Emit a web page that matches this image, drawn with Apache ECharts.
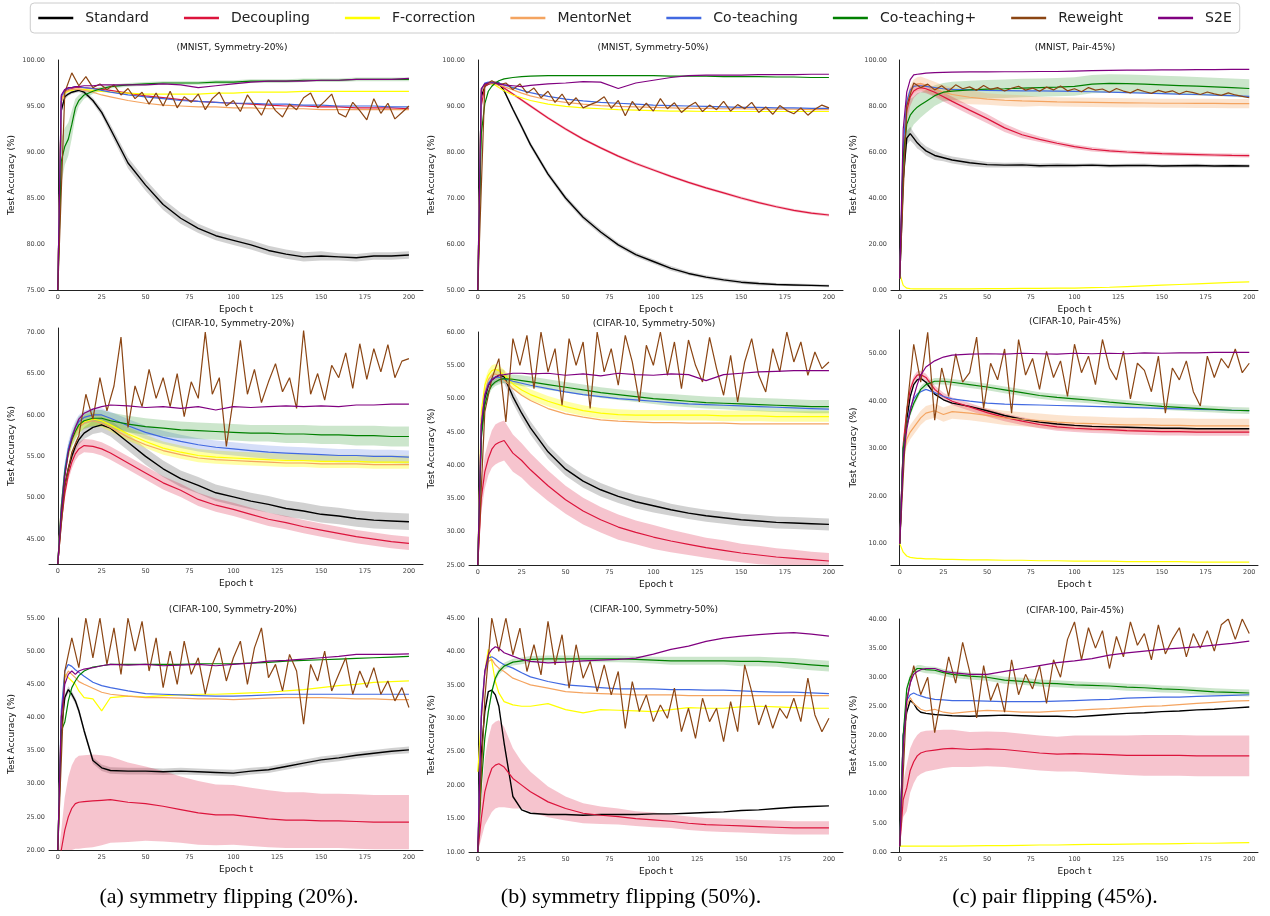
<!DOCTYPE html>
<html>
<head>
<meta charset="utf-8">
<script src="https://cdn.jsdelivr.net/npm/echarts/dist/echarts.min.js"></script>
<style>
html, body { margin: 0; padding: 0; background: #fff; }
#container { width: 1270px; height: 916px; }
</style>
</head>
<body>
<div id="container"></div>
<script>
var dom = document.getElementById("container");
var myChart = echarts.init(dom);

var methods = ['Standard', 'Decoupling', 'F-correction', 'MentorNet', 'Co-teaching', 'Co-teaching+', 'Reweight', 'S2E'];
var colors = ['#000000', '#dc143c', '#ffff00', '#f4a460', '#4169e1', '#008000', '#8b4513', '#800080'];
var bandColors = ['rgba(0,0,0,0.18)', 'rgba(220,20,60,0.25)', 'rgba(255,255,0,0.35)', 'rgba(244,164,96,0.3)',
    'rgba(65,105,225,0.22)', 'rgba(0,128,0,0.2)', 'rgba(139,69,19,0.2)', 'rgba(128,0,128,0.2)'];

// epochs read for the smooth curves, and for the noisy Reweight curve
var epochs = [0, 2, 4, 6, 8, 10, 12, 15, 20, 25, 30, 40, 50, 60, 70, 80, 90, 100, 110, 120, 130, 140, 150, 160, 170, 180, 190, 200];
var epochsR = [0, 4, 8, 12, 16, 20, 24, 28, 32, 36, 40, 44, 48, 52, 56, 60, 64, 68, 72, 76, 80, 84, 88, 92, 96, 100,
    104, 108, 112, 116, 120, 124, 128, 132, 136, 140, 144, 148, 152, 156, 160, 164, 168, 172, 176, 180, 184, 188, 192, 196, 200];

// (MNIST, Symmetry-20%)
var m20_std = [75, 94.5, 96.0, 96.3, 96.5, 96.6, 96.7, 96.5, 95.6, 94.3, 92.5, 88.8, 86.4, 84.3, 82.8, 81.7, 80.9, 80.4, 79.9, 79.3, 78.9, 78.6, 78.7, 78.6, 78.5, 78.7, 78.7, 78.8];
var m20_dec = [75, 95.5, 96.6, 96.8, 96.9, 97.0, 97.0, 97.0, 96.9, 96.8, 96.7, 96.4, 96.1, 95.9, 95.7, 95.5, 95.4, 95.3, 95.2, 95.1, 95.0, 95.0, 94.9, 94.9, 94.8, 94.8, 94.8, 94.7];
var m20_fcor = [75, 95.5, 96.4, 96.6, 96.7, 96.8, 96.8, 96.8, 96.7, 96.6, 96.5, 96.4, 96.3, 96.3, 96.3, 96.3, 96.4, 96.4, 96.5, 96.5, 96.5, 96.6, 96.6, 96.6, 96.6, 96.6, 96.6, 96.6];
var m20_ment = [75, 95.5, 96.5, 96.7, 96.8, 96.8, 96.8, 96.7, 96.5, 96.2, 96.0, 95.6, 95.3, 95.1, 95.0, 94.9, 94.9, 94.8, 94.8, 94.7, 94.7, 94.7, 94.6, 94.6, 94.6, 94.6, 94.6, 94.6];
var m20_cot = [75, 96.0, 96.7, 96.9, 97.0, 97.1, 97.1, 97.0, 96.9, 96.7, 96.5, 96.2, 96.0, 95.8, 95.6, 95.5, 95.4, 95.3, 95.3, 95.2, 95.2, 95.1, 95.1, 95.0, 95.0, 95.0, 94.9, 94.9];
var m20_cotp = [75, 89.0, 90.6, 91.4, 93.0, 94.8, 95.6, 96.2, 96.6, 96.9, 97.1, 97.3, 97.4, 97.5, 97.5, 97.5, 97.6, 97.6, 97.7, 97.7, 97.7, 97.8, 97.8, 97.8, 97.9, 97.9, 97.9, 97.9];
var m20_s2e = [75, 96.2, 96.8, 97.0, 97.0, 97.1, 97.1, 97.2, 97.2, 97.3, 97.3, 97.3, 97.3, 97.4, 97.3, 97.0, 97.2, 97.4, 97.6, 97.7, 97.7, 97.7, 97.8, 97.8, 97.9, 97.9, 97.9, 98.0];
var m20_rew = [75, 96.5, 98.6, 97.2, 98.2, 97.0, 97.4, 96.8, 97.3, 96.2, 96.9, 95.8, 96.5, 95.2, 96.4, 95.0, 96.6, 94.8, 96.0, 95.4, 96.3, 94.6, 95.8, 96.5, 95.0, 95.6,
    94.4, 96.2, 95.1, 94.0, 95.7, 94.5, 93.8, 95.2, 94.6, 95.9, 96.4, 94.8, 95.5, 96.3, 94.2, 93.8, 95.4, 94.5, 93.5, 95.8, 94.2, 95.3, 93.6, 94.3, 95.0];
var m20_std_sd = [0, 0.3, 0.3, 0.2, 0.2, 0.2, 0.2, 0.2, 0.3, 0.4, 0.5, 0.6, 0.6, 0.6, 0.6, 0.5, 0.5, 0.5, 0.5, 0.5, 0.5, 0.5, 0.5, 0.4, 0.4, 0.4, 0.4, 0.4];
var m20_cotp_sd = [0, 2.5, 2.0, 1.8, 1.5, 1.0, 0.6, 0.4, 0.3, 0.2, 0.2, 0.2, 0.2, 0.2, 0.2, 0.2, 0.2, 0.2, 0.2, 0.2, 0.2, 0.2, 0.2, 0.2, 0.2, 0.2, 0.2, 0.2];

// (MNIST, Symmetry-50%)
var m50_std = [50, 92.0, 94.3, 94.8, 95.0, 95.1, 95.0, 93.3, 89.3, 85.5, 81.6, 75.2, 70.0, 65.8, 62.6, 59.8, 57.7, 56.2, 54.7, 53.6, 52.8, 52.2, 51.7, 51.4, 51.2, 51.1, 51.0, 50.9];
var m50_dec = [50, 90.0, 94.3, 94.8, 95.0, 94.9, 94.6, 93.9, 92.6, 91.3, 90.0, 87.4, 85.0, 82.8, 80.9, 79.1, 77.5, 76.1, 74.7, 73.4, 72.2, 71.1, 70.0, 69.0, 68.1, 67.3, 66.7, 66.3];
var m50_fcor = [50, 93.5, 94.8, 95.0, 94.8, 94.5, 94.0, 93.3, 92.4, 91.8, 91.2, 90.4, 89.9, 89.6, 89.4, 89.2, 89.1, 89.0, 88.9, 88.9, 88.8, 88.8, 88.8, 88.8, 88.8, 88.8, 88.8, 88.8];
var m50_ment = [50, 93.0, 94.8, 95.0, 95.0, 94.8, 94.6, 94.2, 93.5, 92.8, 92.2, 91.3, 90.8, 90.4, 90.1, 89.9, 89.8, 89.7, 89.6, 89.5, 89.5, 89.4, 89.4, 89.3, 89.3, 89.3, 89.2, 89.2];
var m50_cot = [50, 93.5, 95.0, 95.2, 95.2, 95.1, 95.0, 94.6, 94.0, 93.4, 92.9, 92.1, 91.5, 91.1, 90.8, 90.6, 90.4, 90.2, 90.1, 90.0, 89.9, 89.8, 89.7, 89.7, 89.6, 89.6, 89.5, 89.5];
var m50_cotp = [50, 84.0, 90.5, 93.2, 94.3, 95.0, 95.5, 95.9, 96.2, 96.4, 96.5, 96.6, 96.6, 96.6, 96.6, 96.6, 96.6, 96.6, 96.5, 96.5, 96.5, 96.4, 96.4, 96.4, 96.3, 96.3, 96.2, 96.2];
var m50_s2e = [50, 93.8, 94.8, 95.0, 95.0, 95.0, 94.8, 94.6, 94.4, 94.2, 94.5, 94.8, 95.0, 95.3, 95.2, 93.8, 95.0, 95.6, 96.2, 96.6, 96.7, 96.7, 96.7, 96.8, 96.8, 96.8, 96.9, 96.9];
var m50_rew = [50, 94.5, 95.5, 94.6, 95.0, 93.6, 94.8, 92.8, 93.9, 91.8, 93.2, 90.8, 92.6, 90.2, 91.8, 89.6, 90.3, 90.9, 92.0, 89.5, 91.2, 87.9, 91.0, 89.0, 90.6, 88.9,
    91.6, 89.4, 90.7, 88.6, 89.9, 90.8, 88.8, 90.2, 89.2, 91.0, 88.9, 90.3, 89.4, 90.8, 88.6, 89.8, 88.2, 90.1, 89.0, 88.3, 89.6, 88.0, 89.3, 90.2, 89.6];
var m50_std_sd = [0, 0.5, 0.3, 0.3, 0.3, 0.3, 0.3, 0.4, 0.5, 0.6, 0.6, 0.6, 0.6, 0.6, 0.6, 0.5, 0.5, 0.5, 0.5, 0.4, 0.4, 0.4, 0.4, 0.4, 0.3, 0.3, 0.3, 0.3];
var m50_dec_sd = [0, 0.5, 0.3, 0.3, 0.3, 0.3, 0.3, 0.3, 0.3, 0.3, 0.3, 0.3, 0.3, 0.3, 0.3, 0.3, 0.3, 0.3, 0.3, 0.3, 0.3, 0.3, 0.3, 0.3, 0.3, 0.3, 0.3, 0.3];

// (MNIST, Pair-45%)
var mp_std = [5, 48, 66, 68, 66, 64, 62.5, 60.5, 58.5, 57.5, 56.5, 55.3, 54.5, 54.3, 54.4, 54.0, 54.2, 54.1, 54.3, 54.0, 54.1, 54.2, 53.9, 54.0, 54.1, 53.9, 54.0, 53.9];
var mp_dec = [5, 55, 78, 84, 86.5, 87.5, 88.0, 87.5, 86.0, 84.0, 82.0, 78.2, 74.5, 70.5, 67.5, 65.5, 63.8, 62.3, 61.2, 60.5, 60.0, 59.6, 59.3, 59.1, 58.9, 58.7, 58.5, 58.4];
var mp_fcor = [7, 2, 0.8, 0.6, 0.5, 0.5, 0.5, 0.5, 0.5, 0.5, 0.5, 0.5, 0.6, 0.6, 0.7, 0.7, 0.8, 0.8, 1.0, 1.2, 1.5, 1.8, 2.1, 2.4, 2.7, 3.0, 3.3, 3.5];
var mp_ment = [5, 60, 80, 86, 88.5, 89.5, 89.8, 89.0, 87.5, 86.0, 85.0, 83.8, 83.0, 82.5, 82.2, 82.0, 81.8, 81.7, 81.6, 81.5, 81.4, 81.3, 81.2, 81.2, 81.1, 81.1, 81.0, 81.0];
var mp_cot = [5, 62, 82, 87, 88.5, 88.8, 88.8, 88.5, 88.0, 87.5, 87.2, 87.0, 86.8, 86.7, 86.6, 86.6, 86.5, 86.4, 86.2, 86.0, 85.8, 85.6, 85.4, 85.2, 85.0, 84.7, 84.5, 84.2];
var mp_cotp = [5, 58, 72, 76, 78, 79.5, 80.5, 82, 84.5, 86.0, 86.5, 87.0, 87.3, 87.5, 87.8, 88.0, 88.2, 88.5, 89.5, 89.8, 89.7, 89.5, 89.2, 88.9, 88.6, 88.3, 88.0, 87.6];
var mp_s2e = [5, 70, 86, 91.5, 93.5, 93.8, 94.0, 94.3, 94.5, 94.6, 94.7, 94.8, 94.8, 94.9, 94.9, 95.0, 95.0, 95.2, 95.4, 95.5, 95.6, 95.6, 95.7, 95.7, 95.8, 95.8, 95.9, 95.9];
var mp_rew = [5, 80, 90, 88, 89.5, 87, 88.8, 86.5, 89.2, 87.5, 88.3, 86.8, 88.9, 87.2, 88.0, 86.5, 87.7, 88.6, 86.9, 87.8, 86.4, 88.2, 87.0, 88.7, 86.6, 87.5,
    86.2, 88.0, 86.9, 87.4, 86.0, 87.6, 86.5, 85.7, 87.2, 86.3, 85.5, 86.8, 85.9, 86.6, 85.2, 86.4, 85.8, 85.0, 86.1, 85.3, 84.6, 85.7, 84.8, 84.2, 83.6];
var mp_std_sd = [0, 3, 3, 3, 2.5, 2.5, 2, 2, 2, 1.5, 1.5, 1.5, 1.2, 1, 1, 1, 1, 0.8, 0.8, 0.8, 0.8, 0.8, 0.8, 0.8, 0.8, 0.8, 0.8, 0.8];
var mp_dec_sd = [0, 5, 5, 4, 3, 2.5, 2, 2, 2, 2, 2, 2, 2, 1.8, 1.5, 1.2, 1, 1, 1, 0.8, 0.8, 0.8, 0.8, 0.8, 0.8, 0.8, 0.8, 0.8];
var mp_ment_sd = [0, 5, 4, 3, 3, 3, 3, 3, 3, 3, 3, 3, 2.5, 2.5, 2.5, 2, 2, 2, 2, 2, 2, 2, 2, 2, 2, 2, 2, 2];
var mp_cotp_sd = [0, 8, 8, 7, 6, 6, 5.5, 5, 4.5, 4, 4, 4, 4, 4, 4, 4, 4, 4, 4, 4, 4, 4, 4, 4, 4, 4, 4, 4];

// (CIFAR-10, Symmetry-20%)
var c10s20_std = [42, 48, 51.5, 53.5, 55.0, 56.2, 57.0, 57.8, 58.5, 58.8, 58.4, 56.7, 55.0, 53.5, 52.3, 51.5, 50.6, 50.1, 49.6, 49.2, 48.7, 48.4, 48.0, 47.8, 47.5, 47.3, 47.2, 47.1];
var c10s20_dec = [42, 47, 50.5, 52.8, 54.3, 55.3, 55.9, 56.3, 56.2, 55.9, 55.4, 54.2, 53.0, 51.8, 50.9, 49.8, 49.1, 48.6, 48.0, 47.4, 47.0, 46.5, 46.1, 45.7, 45.3, 45.0, 44.7, 44.5];
var c10s20_fcor = [42, 49, 53, 55.5, 57.0, 58.0, 58.6, 59.2, 59.5, 59.3, 58.8, 57.7, 56.8, 56.0, 55.5, 55.1, 54.9, 54.8, 54.7, 54.6, 54.5, 54.5, 54.4, 54.4, 54.4, 54.3, 54.3, 54.3];
var c10s20_ment = [42, 49, 53, 55.3, 56.8, 57.8, 58.5, 59.0, 59.3, 59.0, 58.5, 57.3, 56.4, 55.7, 55.2, 54.8, 54.6, 54.5, 54.4, 54.3, 54.2, 54.2, 54.1, 54.1, 54.1, 54.0, 54.0, 54.0];
var c10s20_cot = [42, 49, 53.5, 56, 57.5, 58.5, 59.2, 59.7, 60.0, 60.0, 59.6, 58.7, 57.9, 57.3, 56.8, 56.4, 56.1, 55.9, 55.7, 55.5, 55.4, 55.3, 55.2, 55.1, 55.1, 55.0, 55.0, 54.9];
var c10s20_cotp = [42, 48.5, 53, 55.5, 57, 58, 58.8, 59.3, 59.6, 59.6, 59.3, 58.9, 58.6, 58.4, 58.2, 58.1, 58.0, 57.9, 57.8, 57.8, 57.7, 57.7, 57.6, 57.6, 57.5, 57.5, 57.4, 57.4];
var c10s20_s2e = [42, 48, 52.5, 55.5, 57.2, 58.5, 59.5, 60.2, 60.7, 61.0, 61.2, 61.1, 60.9, 61.0, 60.8, 61.0, 60.6, 61.0, 60.9, 61.0, 61.1, 61.0, 61.1, 61.0, 61.2, 61.2, 61.3, 61.3];
var c10s20_rew = [42, 51.5, 55.5, 57.5, 62.5, 59.5, 64.5, 60.5, 63.5, 69.4, 58.5, 63.5, 61, 65.5, 62, 64.5, 61, 65, 59.8, 64, 62, 70, 62.5, 64.5, 56.2, 62,
    69, 62.5, 65.5, 61.5, 64, 66.2, 62.8, 64.5, 60.8, 70.2, 62.5, 65, 61.8, 66, 64.5, 67.5, 63.2, 68.6, 64.3, 68.0, 65.2, 68.5, 64.5, 66.5, 66.8];
var c10s20_std_sd = [0, 0.5, 0.5, 0.5, 0.5, 0.6, 0.6, 0.7, 0.8, 0.9, 1, 1, 1, 1, 1, 1, 1, 1, 1, 1, 1, 1, 1, 1, 1, 1, 1, 1];
var c10s20_dec_sd = [0, 0.5, 0.6, 0.7, 0.8, 0.8, 0.8, 0.8, 0.8, 0.8, 0.8, 0.8, 0.8, 0.8, 0.8, 0.8, 0.8, 0.8, 0.8, 0.8, 0.8, 0.8, 0.8, 0.8, 0.8, 0.8, 0.8, 0.8];
var c10s20_fcor_sd = [0, 0.6, 0.8, 0.8, 0.8, 0.8, 0.8, 0.8, 0.8, 0.8, 0.8, 0.8, 0.8, 0.8, 0.8, 0.8, 0.8, 0.8, 0.8, 0.8, 0.8, 0.8, 0.8, 0.8, 0.8, 0.8, 0.8, 0.8];
var c10s20_cot_sd = [0, 0.6, 0.8, 0.8, 0.8, 0.8, 0.8, 0.8, 0.8, 0.8, 0.8, 0.8, 0.8, 0.8, 0.8, 0.8, 0.8, 0.8, 0.8, 0.8, 0.8, 0.8, 0.8, 0.8, 0.8, 0.8, 0.8, 0.8];
var c10s20_cotp_sd = [0, 0.5, 0.6, 0.8, 0.8, 1.0, 1.0, 1.0, 1.0, 1.0, 1.0, 1.0, 1.0, 1.0, 1.0, 1.0, 1.0, 1.0, 1.0, 1.0, 1.1, 1.1, 1.1, 1.1, 1.2, 1.2, 1.2, 1.2];

// (CIFAR-10, Symmetry-50%)
var c10s50_std = [25, 45, 50, 52, 52.8, 53.2, 53.5, 53.3, 50.3, 47.8, 45.6, 42.0, 39.4, 37.6, 36.3, 35.3, 34.5, 33.9, 33.3, 32.8, 32.4, 32.1, 31.8, 31.6, 31.4, 31.3, 31.2, 31.1];
var c10s50_dec = [25, 35, 39, 41, 42.4, 43.1, 43.4, 43.7, 41.8, 40.7, 39.3, 36.9, 34.8, 33.1, 31.8, 30.7, 29.9, 29.2, 28.6, 28.1, 27.6, 27.2, 26.8, 26.5, 26.2, 26.0, 25.8, 25.6];
var c10s50_fcor = [25, 48, 52, 53.5, 54.2, 54.4, 54.2, 53.5, 52.2, 51.3, 50.6, 49.6, 48.8, 48.2, 47.8, 47.6, 47.5, 47.5, 47.5, 47.5, 47.5, 47.4, 47.4, 47.4, 47.3, 47.3, 47.3, 47.3];
var c10s50_ment = [25, 47, 51, 52.8, 53.5, 53.7, 53.5, 52.8, 51.5, 50.5, 49.7, 48.5, 47.7, 47.2, 46.8, 46.6, 46.5, 46.4, 46.4, 46.3, 46.3, 46.3, 46.2, 46.2, 46.2, 46.2, 46.2, 46.2];
var c10s50_cot = [25, 46, 50.5, 52.3, 53.0, 53.2, 53.2, 53.0, 52.6, 52.3, 52.0, 51.5, 51.0, 50.6, 50.3, 50.0, 49.8, 49.6, 49.4, 49.2, 49.1, 49.0, 48.9, 48.8, 48.7, 48.6, 48.5, 48.4];
var c10s50_cotp = [25, 44, 49, 51.0, 52.0, 52.5, 52.8, 53.0, 52.9, 52.7, 52.5, 52.1, 51.7, 51.3, 50.9, 50.6, 50.3, 50.0, 49.8, 49.6, 49.4, 49.3, 49.2, 49.1, 49.0, 48.9, 48.8, 48.8];
var c10s50_s2e = [25, 46, 50.5, 52, 52.8, 53.2, 53.5, 53.6, 53.8, 53.8, 53.7, 53.8, 53.5, 53.7, 53.4, 53.8, 53.6, 53.5, 53.7, 53.6, 52.7, 53.6, 53.8, 54.0, 54.1, 54.2, 54.2, 54.2];
var c10s50_rew = [25, 48, 53, 56, 46.5, 59, 55, 59.5, 51.5, 60, 54, 57.5, 49, 59, 55, 58.5, 48.5, 60, 54, 57.5, 52, 59.5, 55.5, 49.5, 58, 55,
    60, 53.5, 58.5, 51.5, 58.8, 55, 52.5, 59.2, 54.5, 50.5, 56.5, 49.5, 55.5, 59, 53.5, 51, 57.5, 54, 60, 55.5, 58.5, 53.5, 57, 54.5, 55.5];
var c10s50_std_sd = [0, 1, 1, 1, 1, 1, 1, 1, 1, 1, 1, 1, 1, 1, 1, 1, 1, 1, 0.9, 0.9, 0.9, 0.9, 0.9, 0.9, 0.9, 0.9, 0.9, 0.9];
var c10s50_dec_sd = [0, 2, 2.5, 2.5, 2.8, 3, 3, 3, 2.8, 2.6, 2.5, 2.3, 2.1, 2.0, 1.9, 1.9, 1.8, 1.8, 1.7, 1.6, 1.5, 1.5, 1.4, 1.4, 1.3, 1.3, 1.2, 1.2];
var c10s50_fcor_sd = [0, 0.6, 0.8, 0.8, 0.8, 0.8, 0.8, 0.8, 0.8, 0.8, 0.8, 0.8, 0.8, 0.8, 0.8, 0.8, 0.8, 0.8, 0.8, 0.8, 0.8, 0.8, 0.8, 0.8, 0.8, 0.8, 0.8, 0.8];
var c10s50_cotp_sd = [0, 0.5, 0.5, 0.6, 0.6, 0.6, 0.7, 0.7, 0.7, 0.8, 0.8, 0.8, 0.8, 0.8, 0.8, 0.8, 0.8, 0.8, 0.9, 0.9, 0.9, 0.9, 1.0, 1.0, 1.0, 1.0, 1.0, 1.0];

// (CIFAR-10, Pair-45%)
var c10p_std = [10, 30, 36, 41, 43.5, 44.5, 44.8, 44.0, 41.5, 40.3, 39.6, 38.9, 38.0, 37.0, 36.2, 35.6, 35.2, 34.9, 34.7, 34.6, 34.5, 34.4, 34.3, 34.3, 34.2, 34.2, 34.2, 34.2];
var c10p_dec = [10, 31, 38, 42.5, 44.5, 45.5, 45.6, 45.0, 42.5, 41.0, 40.0, 38.8, 37.6, 36.6, 35.8, 35.1, 34.6, 34.3, 34.1, 34.0, 33.8, 33.7, 33.6, 33.6, 33.5, 33.5, 33.5, 33.5];
var c10p_fcor = [10, 8.2, 7.4, 7.1, 7.0, 6.9, 6.9, 6.8, 6.8, 6.7, 6.7, 6.6, 6.6, 6.5, 6.5, 6.4, 6.4, 6.3, 6.3, 6.3, 6.2, 6.2, 6.2, 6.2, 6.1, 6.1, 6.1, 6.1];
var c10p_ment = [10, 28, 32, 33.5, 34.5, 35.5, 36.5, 37.5, 38.0, 37.2, 37.8, 37.5, 37.0, 36.5, 36.2, 35.9, 35.6, 35.4, 35.3, 35.1, 35.0, 35.0, 34.9, 34.9, 34.8, 34.8, 34.8, 34.8];
var c10p_cot = [10, 30, 35, 38.5, 40.5, 41.5, 42.0, 42.5, 41.8, 41.0, 40.5, 40.0, 39.6, 39.4, 39.3, 39.2, 39.1, 39.0, 38.9, 38.8, 38.7, 38.6, 38.5, 38.4, 38.3, 38.2, 38.1, 38.0];
var c10p_cotp = [10, 30, 35, 37.5, 39.5, 41.0, 42.5, 43.5, 44.2, 44.2, 44.0, 43.5, 43.0, 42.4, 41.8, 41.2, 40.8, 40.5, 40.2, 39.8, 39.5, 39.2, 38.9, 38.7, 38.5, 38.3, 38.1, 38.0];
var c10p_s2e = [10, 28, 34, 38, 41, 43.5, 45.5, 47.2, 48.5, 49.3, 49.7, 49.9, 50.0, 49.9, 50.1, 50.0, 49.9, 50.1, 50.0, 50.1, 50.0, 50.2, 50.1, 50.2, 50.2, 50.3, 50.3, 50.3];
var c10p_rew = [10, 38, 52, 44, 54.5, 36, 47, 41, 50, 44, 46, 53.5, 38.5, 48, 44.5, 51, 37.5, 53, 45.5, 49, 42.5, 50.5, 45, 48.5, 41, 52,
    46, 49.5, 43.5, 53, 47, 44.5, 50.5, 40.5, 48, 46.5, 42, 49.5, 37.5, 47, 44.5, 48.5, 42, 39, 49.5, 45, 49, 47, 51, 46, 48];
var c10p_dec_sd = [0, 0.8, 0.8, 0.8, 0.8, 0.8, 0.8, 0.8, 0.8, 0.8, 0.8, 0.8, 0.8, 0.8, 0.8, 0.8, 0.8, 0.8, 0.8, 0.8, 0.8, 0.8, 0.8, 0.8, 0.8, 0.8, 0.8, 0.8];
var c10p_ment_sd = [0, 1.5, 1.5, 1.5, 1.5, 1.5, 1.5, 1.5, 1.5, 1.5, 1.5, 1.5, 1.5, 1.5, 1.5, 1.5, 1.5, 1.5, 1.5, 1.5, 1.5, 1.5, 1.5, 1.5, 1.5, 1.5, 1.5, 1.5];
var c10p_cotp_sd = [0, 0.7, 0.7, 0.7, 0.7, 0.7, 0.7, 0.7, 0.7, 0.7, 0.7, 0.7, 0.7, 0.7, 0.7, 0.7, 0.7, 0.7, 0.7, 0.7, 0.7, 0.7, 0.7, 0.7, 0.7, 0.7, 0.7, 0.7];

// (CIFAR-100, Symmetry-20%)
var c100s20_std = [20, 38, 43, 44.2, 43.5, 42.5, 41.0, 38.0, 33.5, 32.4, 32.0, 31.9, 31.9, 31.8, 31.9, 31.8, 31.7, 31.6, 31.9, 32.1, 32.6, 33.1, 33.6, 33.9, 34.3, 34.6, 34.9, 35.1];
var c100s20_dec = [18, 20, 23, 25, 26.3, 27.0, 27.2, 27.3, 27.4, 27.5, 27.6, 27.2, 27.0, 26.6, 26.1, 25.6, 25.3, 25.3, 25.0, 24.7, 24.5, 24.5, 24.4, 24.4, 24.3, 24.2, 24.2, 24.2];
var c100s20_fcor = [20, 40, 46.5, 46.0, 45.5, 45.0, 44.0, 43.0, 42.8, 41.0, 43.0, 43.2, 43.1, 43.3, 43.4, 43.5, 43.5, 43.6, 43.7, 43.8, 44.0, 44.2, 44.5, 44.8, 45.0, 45.3, 45.4, 45.5];
var c100s20_ment = [20, 40, 46, 47, 46.5, 46, 45.4, 45.0, 44.4, 43.8, 43.5, 43.2, 43.0, 43.0, 42.9, 42.8, 42.8, 42.7, 42.8, 42.9, 43.0, 43.0, 43.0, 42.9, 42.8, 42.8, 42.7, 42.7];
var c100s20_cot = [20, 41, 47, 48, 47.7, 47.2, 46.8, 46.2, 45.3, 44.8, 44.5, 44.0, 43.6, 43.5, 43.4, 43.3, 43.2, 43.2, 43.3, 43.4, 43.5, 43.5, 43.5, 43.5, 43.5, 43.5, 43.5, 43.5];
var c100s20_cotp = [20, 38, 39.3, 42.5, 44.5, 45.5, 46.3, 47.0, 47.6, 47.8, 48.0, 48.0, 48.0, 48.0, 48.0, 48.1, 48.1, 48.1, 48.2, 48.3, 48.5, 48.6, 48.7, 48.8, 48.9, 49.0, 49.1, 49.2];
var c100s20_s2e = [20, 40, 45, 46.5, 47, 46.5, 47, 47.3, 47.5, 47.8, 48.0, 47.9, 48.0, 47.8, 47.9, 48.0, 47.8, 48.0, 48.2, 48.5, 48.6, 48.8, 49.0, 49.2, 49.5, 49.5, 49.5, 49.6];
var c100s20_rew = [20, 47, 52, 47.5, 55, 49, 55, 48, 53.5, 46.5, 55, 50, 54.5, 47, 52, 44.5, 50, 45, 51.5, 46.5, 49, 43.5, 48, 50.5, 45.5, 49,
    51.5, 45, 50.5, 53.5, 46, 48, 44, 49.5, 47, 39, 48, 45.5, 50, 44, 46.5, 49, 43.5, 47, 44.5, 47.5, 43.5, 45.5, 42.5, 44.5, 41.5];
var c100s20_std_sd = [0, 0.5, 0.5, 0.5, 0.5, 0.5, 0.5, 0.5, 0.5, 0.5, 0.5, 0.5, 0.5, 0.5, 0.5, 0.5, 0.5, 0.5, 0.5, 0.5, 0.5, 0.5, 0.5, 0.5, 0.5, 0.5, 0.5, 0.5];
var c100s20_dec_sd = [0, 3, 5, 6, 6.5, 6.8, 7, 7, 7, 6.8, 6.5, 6, 5.6, 5.3, 5, 4.8, 4.6, 4.5, 4.4, 4.3, 4.2, 4.2, 4.1, 4.1, 4.1, 4.1, 4.1, 4.1];

// (CIFAR-100, Symmetry-50%)
var c100s50_std = [10, 25, 31, 34, 34.2, 33.5, 31.8, 26.3, 18.3, 16.3, 15.8, 15.6, 15.6, 15.5, 15.6, 15.6, 15.6, 15.7, 15.7, 15.8, 15.9, 16.0, 16.2, 16.3, 16.5, 16.7, 16.8, 16.9];
var c100s50_dec = [10, 15, 19, 21, 22.5, 23.0, 23.2, 22.7, 21.0, 20.0, 19.0, 17.5, 16.5, 15.8, 15.5, 15.3, 15.0, 14.8, 14.6, 14.3, 14.1, 14.0, 13.9, 13.8, 13.7, 13.6, 13.6, 13.6];
var c100s50_fcor = [22, 30, 37, 40.3, 38.5, 35.5, 33.8, 32.5, 32.0, 31.8, 31.8, 32.2, 31.3, 30.8, 31.3, 31.2, 31.1, 31.0, 31.3, 31.6, 31.5, 31.5, 31.7, 31.8, 31.7, 31.6, 31.5, 31.5];
var c100s50_ment = [10, 30, 36.5, 38.5, 38.8, 38.0, 37.5, 37.0, 36.0, 35.5, 35.0, 34.5, 34.0, 33.8, 33.7, 33.6, 33.5, 33.5, 33.5, 33.4, 33.4, 33.4, 33.4, 33.4, 33.4, 33.4, 33.4, 33.4];
var c100s50_cot = [10, 31, 37, 39, 39.2, 38.9, 38.5, 38.0, 37.5, 36.8, 36.2, 35.5, 35.0, 34.8, 34.6, 34.4, 34.4, 34.4, 34.3, 34.3, 34.2, 34.2, 34.1, 34.0, 33.9, 33.9, 33.8, 33.7];
var c100s50_cotp = [10, 20, 27, 31, 34, 36, 37, 37.8, 38.4, 38.6, 38.8, 38.9, 38.9, 38.9, 38.9, 38.9, 38.8, 38.7, 38.6, 38.6, 38.6, 38.6, 38.5, 38.5, 38.4, 38.2, 38.0, 37.8];
var c100s50_s2e = [10, 30, 37, 39.5, 40.3, 40.7, 40.5, 39.8, 39.3, 38.8, 38.5, 38.3, 38.4, 38.6, 38.7, 38.8, 39.0, 39.6, 40.3, 40.8, 41.5, 42.0, 42.3, 42.5, 42.7, 42.8, 42.6, 42.3];
var c100s50_rew = [10, 33, 45, 40, 45, 39.5, 43.5, 37, 41, 36.5, 44.5, 38, 42.5, 34.5, 41, 36, 38.5, 34, 38, 33.5, 37, 28.5, 35.5, 31, 33.5, 29.5,
    32, 30, 34.5, 28, 31.5, 27, 33, 29.5, 31.5, 26.5, 32.5, 28, 38, 34, 29, 32, 28.5, 31.5, 30, 33, 29.5, 36, 30.5, 28, 30];
var c100s50_dec_sd = [0, 3, 5, 6, 6.5, 6.5, 6.5, 6, 4.5, 3.5, 3, 2.3, 1.8, 1.5, 1.3, 1.2, 1.1, 1.1, 1, 1, 1, 1, 1, 1, 1, 1, 1, 1];
var c100s50_cotp_sd = [0, 0.5, 0.5, 0.5, 0.5, 0.5, 0.5, 0.5, 0.5, 0.5, 0.5, 0.5, 0.5, 0.5, 0.5, 0.5, 0.5, 0.5, 0.6, 0.6, 0.6, 0.6, 0.7, 0.7, 0.7, 0.8, 0.8, 0.8];

// (CIFAR-100, Pair-45%)
var c100p_std = [1, 20, 24, 26, 25.5, 24.5, 24.0, 23.8, 23.6, 23.5, 23.4, 23.3, 23.4, 23.5, 23.4, 23.3, 23.3, 23.2, 23.4, 23.6, 23.8, 23.9, 24.1, 24.2, 24.4, 24.5, 24.7, 24.9];
var c100p_dec = [1, 9, 11, 14, 15.5, 16.5, 17.0, 17.3, 17.5, 17.7, 17.8, 17.6, 17.7, 17.6, 17.3, 17.0, 16.8, 16.9, 16.8, 16.7, 16.6, 16.6, 16.6, 16.6, 16.5, 16.5, 16.5, 16.5];
var c100p_fcor = [1, 1, 1, 1, 1, 1, 1, 1, 1, 1, 1, 1.05, 1.1, 1.1, 1.15, 1.2, 1.2, 1.25, 1.3, 1.3, 1.35, 1.4, 1.4, 1.45, 1.5, 1.5, 1.55, 1.6];
var c100p_ment = [1, 19, 25, 26.5, 25.5, 25, 24.5, 24.2, 24.5, 24.0, 23.8, 24.1, 24.3, 24.2, 24.0, 24.0, 24.2, 24.3, 24.5, 24.6, 24.8, 25.0, 25.1, 25.3, 25.5, 25.7, 25.9, 26.0];
var c100p_cot = [1, 20, 26, 27, 27.3, 27, 26.8, 26.5, 26.2, 26.1, 26.0, 26.0, 25.9, 25.8, 25.8, 25.8, 25.9, 26.0, 26.1, 26.2, 26.4, 26.5, 26.6, 26.6, 26.7, 26.8, 26.9, 27.0];
var c100p_cotp = [1, 20, 28, 30, 31, 31.5, 31.5, 31.3, 31.2, 30.8, 30.5, 30.2, 30.0, 29.5, 29.3, 29.0, 28.9, 28.7, 28.6, 28.5, 28.3, 28.2, 28.0, 27.9, 27.7, 27.5, 27.4, 27.3];
var c100p_s2e = [1, 18, 26, 29, 30.5, 31, 31.3, 31.5, 31.5, 31.0, 30.8, 30.5, 30.5, 31.0, 31.5, 32.0, 32.5, 32.8, 33.2, 33.8, 34.2, 34.5, 34.8, 35.0, 35.2, 35.5, 35.8, 36.2];
var c100p_rew = [1, 26, 32, 27, 30, 20.5, 27, 33.5, 29, 36, 31, 23, 32, 26, 29, 24, 33, 27, 30.5, 28, 32, 25.5, 33, 30, 36.5, 39.5,
    33, 38.5, 35, 38, 31.5, 37, 33.5, 39.5, 35.5, 37.5, 33, 39, 34, 36.5, 38.5, 33.5, 37.5, 35, 38, 34.5, 39, 40, 36.5, 40, 37.5];
var c100p_dec_sd = [0, 3, 4, 3.8, 3.7, 3.6, 3.6, 3.5, 3.4, 3.3, 3.2, 3.0, 3.0, 3.0, 3.0, 3.0, 3.0, 3.1, 3.2, 3.3, 3.4, 3.5, 3.5, 3.5, 3.5, 3.5, 3.5, 3.5];
var c100p_cotp_sd = [0, 0.6, 0.6, 0.6, 0.6, 0.6, 0.6, 0.6, 0.6, 0.6, 0.6, 0.6, 0.6, 0.6, 0.6, 0.6, 0.6, 0.6, 0.6, 0.6, 0.6, 0.6, 0.6, 0.6, 0.6, 0.6, 0.6, 0.6];

// panel table: lines are in legend order (index 6 = Reweight, sampled on epochsR)
var panels = [
    { title: '(MNIST, Symmetry-20%)', grid: [49, 60, 374, 230], xmax: 208, ymin: 75, ymax: 100, yint: 5, ystep: 5, tx: 232, ty: 48,
      lines: [m20_std, m20_dec, m20_fcor, m20_ment, m20_cot, m20_cotp, m20_rew, m20_s2e],
      bands: [[0, m20_std_sd], [5, m20_cotp_sd]] },
    { title: '(MNIST, Symmetry-50%)', grid: [469, 60, 374, 230], xmax: 208, ymin: 50, ymax: 100, yint: 10, ystep: 10, tx: 653, ty: 48,
      lines: [m50_std, m50_dec, m50_fcor, m50_ment, m50_cot, m50_cotp, m50_rew, m50_s2e],
      bands: [[0, m50_std_sd], [1, m50_dec_sd]] },
    { title: '(MNIST, Pair-45%)', grid: [891, 60, 367, 230], xmax: 205, ymin: 0, ymax: 100, yint: 20, ystep: 20, tx: 1075, ty: 48,
      lines: [mp_std, mp_dec, mp_fcor, mp_ment, mp_cot, mp_cotp, mp_rew, mp_s2e],
      bands: [[5, mp_cotp_sd], [3, mp_ment_sd], [0, mp_std_sd], [1, mp_dec_sd]] },
    { title: '(CIFAR-10, Symmetry-20%)', grid: [49, 328, 374, 236], xmax: 208, ymin: 42, ymax: 70.5, yint: 0.5, ystep: 5, tx: 233, ty: 324,
      lines: [c10s20_std, c10s20_dec, c10s20_fcor, c10s20_ment, c10s20_cot, c10s20_cotp, c10s20_rew, c10s20_s2e],
      bands: [[0, c10s20_std_sd], [1, c10s20_dec_sd], [2, c10s20_fcor_sd], [4, c10s20_cot_sd], [5, c10s20_cotp_sd]] },
    { title: '(CIFAR-10, Symmetry-50%)', grid: [469, 332, 374, 233], xmax: 208, ymin: 25, ymax: 60, yint: 5, ystep: 5, tx: 654, ty: 324,
      lines: [c10s50_std, c10s50_dec, c10s50_fcor, c10s50_ment, c10s50_cot, c10s50_cotp, c10s50_rew, c10s50_s2e],
      bands: [[0, c10s50_std_sd], [1, c10s50_dec_sd], [2, c10s50_fcor_sd], [5, c10s50_cotp_sd]] },
    { title: '(CIFAR-10, Pair-45%)', grid: [891, 330, 367, 235], xmax: 205, ymin: 5.5, ymax: 55, yint: 0.5, ystep: 10, tx: 1075, ty: 322,
      lines: [c10p_std, c10p_dec, c10p_fcor, c10p_ment, c10p_cot, c10p_cotp, c10p_rew, c10p_s2e],
      bands: [[3, c10p_ment_sd], [1, c10p_dec_sd], [5, c10p_cotp_sd]] },
    { title: '(CIFAR-100, Symmetry-20%)', grid: [49, 618, 374, 232], xmax: 208, ymin: 20, ymax: 55, yint: 5, ystep: 5, tx: 233, ty: 610,
      lines: [c100s20_std, c100s20_dec, c100s20_fcor, c100s20_ment, c100s20_cot, c100s20_cotp, c100s20_rew, c100s20_s2e],
      bands: [[0, c100s20_std_sd], [1, c100s20_dec_sd]] },
    { title: '(CIFAR-100, Symmetry-50%)', grid: [469, 618, 374, 234], xmax: 208, ymin: 10, ymax: 45, yint: 5, ystep: 5, tx: 654, ty: 610,
      lines: [c100s50_std, c100s50_dec, c100s50_fcor, c100s50_ment, c100s50_cot, c100s50_cotp, c100s50_rew, c100s50_s2e],
      bands: [[1, c100s50_dec_sd], [5, c100s50_cotp_sd]] },
    { title: '(CIFAR-100, Pair-45%)', grid: [891, 619, 367, 233], xmax: 205, ymin: 0, ymax: 40, yint: 5, ystep: 5, tx: 1075, ty: 611,
      lines: [c100p_std, c100p_dec, c100p_fcor, c100p_ment, c100p_cot, c100p_cotp, c100p_rew, c100p_s2e],
      bands: [[1, c100p_dec_sd], [5, c100p_cotp_sd]] }
];

var captions = [
    { text: '(a) symmetry flipping (20%).', x: 229 },
    { text: '(b) symmetry flipping (50%).', x: 631 },
    { text: '(c) pair flipping (45%).', x: 1055 }
];

function isStep(v, step) {
    var q = v / step;
    return Math.abs(q - Math.round(q)) < 1e-6;
}

var grids = [], xAxes = [], yAxes = [], series = [], graphics = [];

panels.forEach(function (p, pi) {
    grids.push({ left: p.grid[0], top: p.grid[1], width: p.grid[2], height: p.grid[3], containLabel: false });
    xAxes.push({
        gridIndex: pi, type: 'value', min: -5, max: p.xmax, interval: 5,
        name: 'Epoch t', nameLocation: 'middle', nameGap: 15,
        nameTextStyle: { fontFamily: 'DejaVu Sans', fontSize: 9, color: '#111' },
        axisLine: { lineStyle: { color: '#222', width: 1 } },
        axisTick: { show: false },
        splitLine: { show: false },
        axisLabel: {
            fontFamily: 'DejaVu Sans', fontSize: 6.5, color: '#444', margin: 4, showMaxLabel: true,
            formatter: function (v) { return (v >= 0 && v <= 200 && isStep(v, 25)) ? String(Math.round(v)) : ''; }
        }
    });
    yAxes.push({
        gridIndex: pi, type: 'value', min: p.ymin, max: p.ymax, interval: p.yint,
        name: 'Test Accuracy (%)', nameLocation: 'middle', nameGap: 33, nameRotate: 90,
        nameTextStyle: { fontFamily: 'DejaVu Sans', fontSize: 9, color: '#111' },
        axisLine: { show: true, lineStyle: { color: '#222', width: 1 } },
        axisTick: { show: false },
        splitLine: { show: false },
        axisLabel: {
            fontFamily: 'DejaVu Sans', fontSize: 6.5, color: '#444', margin: 4,
            formatter: function (v) { return isStep(v, p.ystep) ? v.toFixed(2) : ''; }
        }
    });

    // std bands behind the curves
    p.bands.forEach(function (b) {
        var vals = p.lines[b[0]], sd = b[1];
        var rows = epochs.map(function (e, i) {
            return [e, Math.max(p.ymin, vals[i] - sd[i]), Math.min(p.ymax, vals[i] + sd[i])];
        });
        series.push({
            type: 'custom', name: 'band', xAxisIndex: pi, yAxisIndex: pi, z: 1, silent: true, clip: true,
            encode: { x: 0, y: [1, 2] },
            data: rows,
            renderItem: function (params, api) {
                if (params.dataIndex !== 0) return null;
                var pts = [];
                for (var i = 0; i < rows.length; i++) pts.push(api.coord([rows[i][0], rows[i][2]]));
                for (var j = rows.length - 1; j >= 0; j--) pts.push(api.coord([rows[j][0], rows[j][1]]));
                return { type: 'polygon', shape: { points: pts }, style: { fill: bandColors[b[0]] } };
            }
        });
    });

    methods.forEach(function (m, k) {
        var xs = k === 6 ? epochsR : epochs;
        var ys = p.lines[k];
        series.push({
            type: 'line', name: m, xAxisIndex: pi, yAxisIndex: pi, z: 2 + k,
            showSymbol: false, symbol: 'none', clip: true,
            itemStyle: { color: colors[k] },
            lineStyle: { color: colors[k], width: k === 0 ? 1.4 : 1.2 },
            data: xs.map(function (e, i) { return [e, ys[i]]; })
        });
    });

    graphics.push({
        type: 'text', x: p.tx, y: p.ty,
        style: { text: p.title, fontFamily: 'DejaVu Sans', fontSize: 9, fill: '#111', align: 'center', verticalAlign: 'middle' }
    });
});

captions.forEach(function (c) {
    graphics.push({
        type: 'text', x: c.x, y: 897,
        style: { text: c.text, fontFamily: 'Liberation Serif', fontSize: 22, fill: '#000', align: 'center', verticalAlign: 'middle' }
    });
});

var option = {
    animation: false,
    backgroundColor: '#ffffff',
    legend: {
        data: methods, top: 3, left: 'center',
        icon: 'rect', itemWidth: 35, itemHeight: 2.5, itemGap: 35,
        borderColor: '#cccccc', borderWidth: 1, borderRadius: 4, padding: [8, 8],
        textStyle: { fontFamily: 'DejaVu Sans', fontSize: 14, color: '#222', padding: [0, 0, 0, 7] }
    },
    grid: grids,
    xAxis: xAxes,
    yAxis: yAxes,
    graphic: graphics,
    series: series
};

if (option && typeof option === "object") {
    myChart.setOption(option, true);
}
</script>
</body>
</html>
